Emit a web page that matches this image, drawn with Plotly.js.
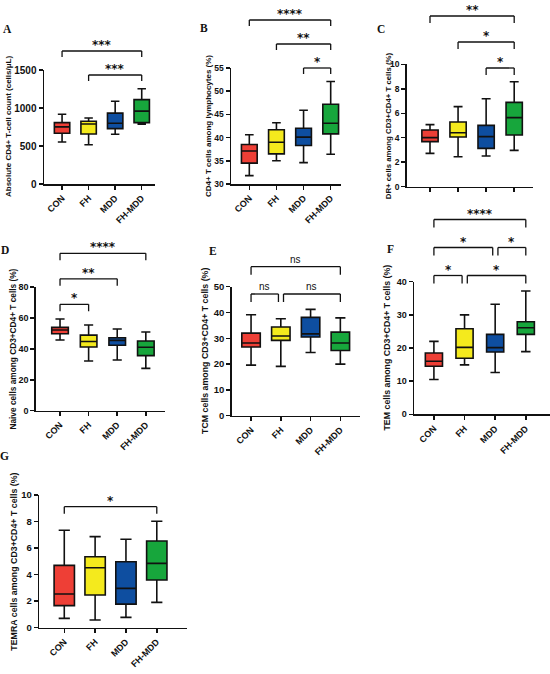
<!DOCTYPE html>
<html><head><meta charset="utf-8">
<script src="https://cdn.plot.ly/plotly-3.0.1.min.js"></script>
<style>html,body{margin:0;padding:0;background:#fff}#chart{width:550px;height:674px}</style>
</head><body><div id="chart"></div>
<script>
// ---------------- DATA ----------------
const categories = ['CON', 'FH', 'MDD', 'FH-MDD'];

const titleA = 'Absolute CD4+ T-cell count (cells/μL)';
const lowA = [553, 517, 655, 786];
const q1A = [667, 658, 728, 808];
const medianA = [752, 790, 800, 959];
const q3A = [808, 826, 933, 1110];
const highA = [917, 869, 1088, 1254];
const compA = [[1, 3, '***', 0], [0, 3, '***', 1]];

const titleB = 'CD4+ T cells among lymphocytes (%)';
const lowB = [31.8, 35.0, 34.6, 36.4];
const q1B = [34.5, 36.5, 38.3, 40.8];
const medianB = [37.1, 39.0, 40.1, 43.1];
const q3B = [38.5, 41.7, 42.0, 47.2];
const highB = [40.6, 43.2, 45.9, 52.1];
const compB = [[2, 3, '*', 0], [1, 3, '**', 1], [0, 3, '****', 2]];

const titleC = 'DR+ cells among CD3+CD4+ T cells (%)';
const lowC = [2.72, 2.45, 2.51, 2.97];
const q1C = [3.68, 4.06, 3.13, 4.22];
const medianC = [4.01, 4.41, 4.09, 5.64];
const q3C = [4.63, 5.29, 5.01, 6.89];
const highC = [5.07, 6.54, 7.19, 8.58];
const compC = [[2, 3, '*', 0], [1, 3, '*', 1], [0, 3, '**', 2]];

const titleD = 'Naive cells among CD3+CD4+ T cells (%)';
const lowD = [45.7, 32.1, 32.8, 27.4];
const q1D = [49.8, 41.2, 42.3, 35.6];
const medianD = [52.2, 44.8, 45.5, 41.0];
const q3D = [53.9, 48.9, 47.2, 45.1];
const highD = [59.3, 55.4, 52.8, 50.9];
const compD = [[0, 1, '*', 0], [0, 2, '**', 1], [0, 3, '****', 2]];

const titleE = 'TCM cells among CD3+CD4+ T cells (%)';
const lowE = [19.6, 19.1, 24.5, 20.0];
const q1E = [26.6, 29.2, 30.5, 25.3];
const medianE = [28.2, 30.9, 31.7, 28.2];
const q3E = [32.0, 34.4, 38.1, 32.4];
const highE = [39.1, 37.6, 41.2, 37.9];
const compE = [[0, 1, 'ns', 0], [1, 3, 'ns', 0], [0, 3, 'ns', 1]];

const titleF = 'TEM cells among CD3+CD4+ T cells (%)';
const lowF = [10.5, 14.9, 12.6, 18.9];
const q1F = [14.5, 16.9, 18.8, 24.1];
const medianF = [16.0, 20.2, 20.1, 26.1];
const q3F = [18.5, 25.8, 24.1, 27.9];
const highF = [22.0, 30.0, 33.2, 37.2];
const compF = [[0, 1, '*', 0], [1, 3, '*', 0], [0, 2, '*', 1], [2, 3, '*', 1], [0, 3, '****', 2]];

const titleG = 'TEMRA cells among CD3+CD4+ T cells (%)';
const lowG = [0.70, 0.58, 0.78, 1.91];
const q1G = [1.66, 2.46, 1.78, 3.59];
const medianG = [2.54, 4.52, 2.96, 4.85];
const q3G = [4.70, 5.35, 4.97, 6.53];
const highG = [7.34, 6.86, 6.66, 8.02];
const compG = [[0, 3, '*', 0]];

const panels = [
  {id: 'A', title: titleA, low: lowA, q1: q1A, med: medianA, q3: q3A, high: highA, yr: [0, 1500], dtick: 500, comps: compA},
  {id: 'B', title: titleB, low: lowB, q1: q1B, med: medianB, q3: q3B, high: highB, yr: [30, 55], dtick: 5, comps: compB},
  {id: 'C', title: titleC, low: lowC, q1: q1C, med: medianC, q3: q3C, high: highC, yr: [0, 10], dtick: 2, comps: compC},
  {id: 'D', title: titleD, low: lowD, q1: q1D, med: medianD, q3: q3D, high: highD, yr: [0, 80], dtick: 20, comps: compD},
  {id: 'E', title: titleE, low: lowE, q1: q1E, med: medianE, q3: q3E, high: highE, yr: [0, 50], dtick: 10, comps: compE},
  {id: 'F', title: titleF, low: lowF, q1: q1F, med: medianF, q3: q3F, high: highF, yr: [0, 40], dtick: 10, comps: compF},
  {id: 'G', title: titleG, low: lowG, q1: q1G, med: medianG, q3: q3G, high: highG, yr: [0, 10], dtick: 2, comps: compG}
];

// ---------------- LAYOUT / STYLE ----------------
const W = 550, H = 674;
const FONT = 'Liberation Sans, Arial, sans-serif';
const INK = '#111111';
const fills = ['#EE3F36', '#F4EA1D', '#0E4EA0', '#17A63C'];
// pixel geometry of each panel: x = [y-axis x, x-axis end], y = [top, bottom]
const geom = {
  A: {x: [44, 155], y: [70, 184], xr: [-0.68, 3.5], tOff: 36, tSize: 8, tick: 6, bw: 0.58, yf: 10, letter: [7, 29], bBase: 75, bStep: 24},
  B: {x: [231, 341], y: [68, 184], xr: [-0.675, 3.38], tOff: 23, tSize: 8, tick: 6, bw: 0.58, yf: 8.5, letter: [204, 28], bBase: 68, bStep: 24},
  C: {x: [406.7, 533], y: [64.3, 186.7], xr: [-0.83, 3.67], tOff: 18, tSize: 7.8, tick: 7, bw: 0.58, yf: 8.5, letter: [381, 29], bBase: 68, bStep: 26, noX: true},
  D: {x: [35.7, 165], y: [287, 410.7], xr: [-0.85, 3.67], tOff: 23, tSize: 8.3, tick: 7, bw: 0.58, yf: 9, letter: [5, 250], bBase: 304.3, bStep: 25.5},
  E: {x: [231.7, 360], y: [286.7, 415.7], xr: [-0.65, 3.66], tOff: 26, tSize: 8.8, tick: 8, bw: 0.62, yf: 9.5, letter: [213, 251], bBase: 294, bStep: 27.3},
  F: {x: [414, 550], y: [281.7, 414.3], xr: [-0.65, 3.79], tOff: 27.5, tSize: 8.8, tick: 8, bw: 0.56, yf: 9, letter: [390, 249], bBase: 275.5, bStep: 28},
  G: {x: [39.3, 186.7], y: [495, 627.7], xr: [-0.81, 3.97], tOff: 25, tSize: 8.8, tick: 7, bw: 0.66, yf: 9.5, letter: [4, 456], bBase: 506.7, bStep: 25}
};

const data = [], shapes = [], annotations = [];
const layout = {
  width: W, height: H, margin: {l: 0, r: 0, t: 0, b: 0},
  paper_bgcolor: '#ffffff', plot_bgcolor: 'rgba(0,0,0,0)',
  boxmode: 'overlay', showlegend: false,
  font: {family: FONT, color: INK}
};

panels.forEach((p, k) => {
  const n = k + 1, sfx = n > 1 ? String(n) : '';
  const xa = 'x' + sfx, ya = 'y' + sfx;
  const g = geom[p.id];
  layout['xaxis' + sfx] = {
    domain: [g.x[0] / W, g.x[1] / W], range: g.xr, type: 'category',
    categoryorder: 'array', categoryarray: categories, anchor: ya,
    showline: true, linecolor: INK, linewidth: 1.5,
    ticks: 'outside', ticklen: 4, tickwidth: 1.5, tickcolor: INK,
    tickangle: -45, showticklabels: !g.noX,
    tickfont: {family: FONT, size: 9, weight: 'bold', color: INK},
    showgrid: false, zeroline: false, fixedrange: true
  };
  layout['yaxis' + sfx] = {
    domain: [1 - g.y[1] / H, 1 - g.y[0] / H], range: p.yr, dtick: p.dtick, tick0: p.yr[0],
    anchor: xa, showline: true, linecolor: INK, linewidth: 1.5,
    ticks: 'outside', ticklen: 4, tickwidth: 1.5, tickcolor: INK,
    tickfont: {family: FONT, size: g.yf, weight: 'bold', color: INK},
    showgrid: false, zeroline: false, fixedrange: true
  };
  categories.forEach((c, i) => {
    data.push({
      type: 'box', x: [c], q1: [p.q1[i]], median: [p.med[i]], q3: [p.q3[i]],
      lowerfence: [p.low[i]], upperfence: [p.high[i]],
      xaxis: xa, yaxis: ya, name: p.id + ' ' + c,
      fillcolor: fills[i], line: {color: INK, width: 1.6},
      width: g.bw, whiskerwidth: 0.55, boxpoints: false,
      hoverinfo: 'skip', showlegend: false
    });
  });
  // significance brackets
  p.comps.forEach(([i, j, label, lev]) => {
    let a = i, b = j;
    p.comps.forEach(([i2, j2, , lev2]) => {
      if (lev2 === lev) {
        if (j2 === i) a = i + 0.09;
        if (i2 === j) b = j - 0.08;
      }
    });
    const yl = 1 - (g.bBase - lev * g.bStep) / H;
    const yt = yl - g.tick / H;
    const ln = {color: INK, width: 1.3};
    shapes.push({type: 'line', xref: xa, yref: 'paper', x0: a, x1: b, y0: yl, y1: yl, line: ln});
    shapes.push({type: 'line', xref: xa, yref: 'paper', x0: a, x1: a, y0: yl, y1: yt, line: ln});
    shapes.push({type: 'line', xref: xa, yref: 'paper', x0: b, x1: b, y0: yl, y1: yt, line: ln});
    const isNs = label === 'ns';
    annotations.push({
      xref: xa, yref: 'paper', x: (a + b) / 2, y: yl, yanchor: 'bottom', xanchor: 'center',
      yshift: isNs ? 0 : -3, showarrow: false, text: label,
      font: isNs ? {family: FONT, size: 10, color: INK}
                 : {family: 'DejaVu Sans, sans-serif', size: 12, weight: 'bold', color: INK}
    });
  });
  // y-axis title
  annotations.push({
    xref: 'paper', yref: 'paper', x: (g.x[0] - g.tOff) / W, y: 1 - (g.y[0] + g.y[1]) / 2 / H,
    xanchor: 'center', yanchor: 'middle', textangle: -90, showarrow: false,
    text: p.title, font: {family: FONT, size: g.tSize, weight: 'bold', color: INK}
  });
  // panel letter
  annotations.push({
    xref: 'paper', yref: 'paper', x: g.letter[0] / W, y: 1 - g.letter[1] / H,
    xanchor: 'center', yanchor: 'middle', showarrow: false, text: p.id,
    font: {family: 'Liberation Serif, Times New Roman, serif', size: 11.5, weight: 'bold', color: INK}
  });
});

layout.shapes = shapes;
layout.annotations = annotations;

Plotly.newPlot('chart', data, layout, {staticPlot: true, displayModeBar: false});
</script>
</body></html>
